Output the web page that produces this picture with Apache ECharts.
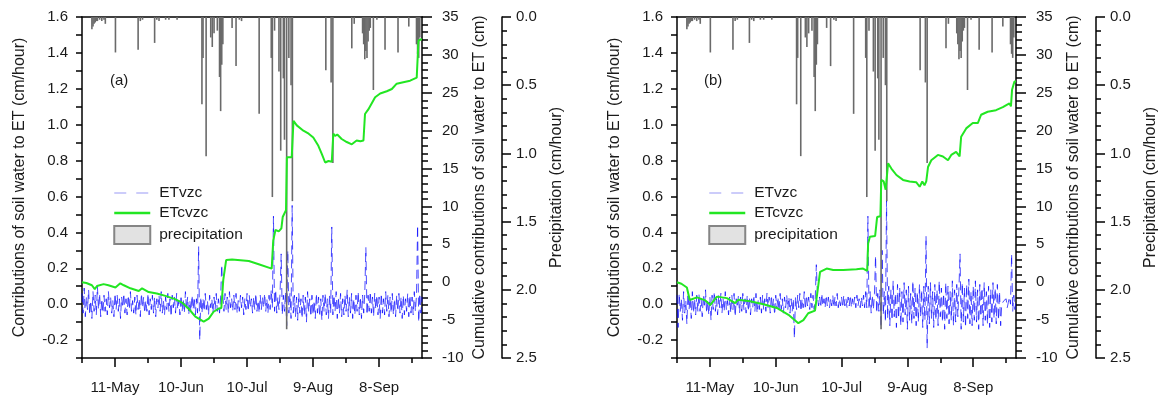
<!DOCTYPE html>
<html><head><meta charset="utf-8">
<script src="https://cdn.jsdelivr.net/npm/echarts@6/dist/echarts.min.js"></script>
<style>html,body{margin:0;padding:0;background:#fff}#c{width:1163px;height:398px}</style>
</head><body><div id="c"></div><script>
// x values are days after 26-Apr
const tickDays=[15,45,75,105,135];
const tickLabels=['11-May','10-Jun','10-Jul','9-Aug','8-Sep'];
const minorTickDays=[0,30,60,90,120,150];
const dayMax=154.5;
const stepDays=0.5; // ETvzc values every half day

const etvzcA=[.06,-.05,.09,-.07,.04,-.03,.08,-.06,.02,-.08,.07,-.04,.05,-.06,.1,-.03,.06,-.07,.03,-.05,
.05,-.04,.03,-.06,.07,-.02,.04,-.05,.02,-.07,.06,-.03,.05,-.04,.03,-.08,.04,-.02,.06,-.05,
.03,-.06,.05,-.03,.07,-.04,.02,-.05,.04,-.06,.05,-.03,.03,-.07,.06,-.02,.04,-.05,.02,-.04,
.06,-.06,.03,-.03,.05,-.05,.04,-.07,.03,-.02,.05,-.04,.07,-.05,.02,-.06,.04,-.03,.06,-.04,
.03,-.07,.05,-.02,.04,-.05,.06,-.03,.02,-.06,.05,-.04,.03,-.05,.07,-.03,.04,-.06,.02,-.04,
.05,-.03,.04,-.06,.03,-.05,.32,-.2,
.04,-.05,.03,-.04,.06,-.03,.02,-.06,.05,-.02,.03,-.05,.04,-.03,.06,-.04,.03,-.05,.04,.22,
.05,-.04,.06,-.03,.04,-.05,.07,-.02,.03,-.04,.05,-.03,.06,-.05,.02,-.04,.05,-.02,.04,-.06,
.03,-.03,.06,-.04,.05,-.02,.03,-.05,.04,-.03,.06,-.04,.02,-.05,.05,-.03,.04,-.02,.06,-.04,
.03,-.05,.05,-.03,.08,
-.02,.49,-.04,.08,-.05,.04,-.03,.06,.28,-.06,.05,-.04,.07,-.12,.3,-.05,.06,-.08,.55,-.05,
.05,-.07,.04,-.09,.06,-.05,.03,-.08,.05,-.06,.04,-.1,.07,-.04,.03,-.07,.05,-.06,.02,-.08,
.06,-.05,.04,-.07,.03,-.09,.05,-.04,.06,-.06,.03,-.08,.05,-.05,.43,
-.06,.05,-.04,.07,-.08,.04,-.05,.06,-.07,.03,-.06,.05,-.04,.08,-.07,.04,-.05,.06,-.08,.03,
-.06,.05,-.04,.07,-.06,.04,-.08,.05,-.05,.06,.315,
-.06,.05,-.04,.07,-.05,.04,-.07,.06,-.03,.05,-.06,.04,-.08,.06,-.05,.03,-.06,.07,-.04,.05,
-.07,.04,-.05,.06,-.06,.03,-.07,.05,-.04,.06,-.05,.04,-.08,.05,-.06,.03,-.04,.06,-.07,.05,
-.05,.04,-.06,.07,-.04,.05,.44,-.1,.06,-.05,.04];

const etvzcB=[.05,-.13,.06,-.04,.03,-.09,.07,-.05,.02,-.11,.06,-.03,.04,-.08,.07,-.05,.03,-.06,.05,-.04,
.06,-.04,.03,-.07,.05,-.02,.08,-.05,.02,-.06,.04,-.09,.05,-.03,.07,-.04,.03,-.06,.05,-.02,
.06,-.05,.03,-.04,.07,-.03,.02,-.06,.04,-.05,.05,-.03,.06,-.07,.03,-.02,.05,-.05,.04,-.04,
.06,-.03,.03,-.05,.05,-.04,.04,-.06,.03,-.02,.05,-.04,.06,-.05,.02,-.03,.04,-.05,.05,-.03,
.03,-.04,.06,-.02,.04,-.05,.05,-.03,.03,-.06,.05,-.02,.04,-.04,.06,-.03,.03,-.05,.04,-.02,
.05,-.03,.04,-.05,.03,-.04,.03,-.19,
.04,-.03,.05,-.02,.06,-.04,.03,-.02,.07,-.03,.05,-.01,.04,-.03,.06,-.02,.05,-.03,.03,.22,
.05,-.01,.04,-.02,.06,-.01,.03,-.02,.05,-.01,.04,-.02,.03,-.01,.05,-.02,.04,-.01,.06,-.02,
.03,-.01,.04,-.02,.05,-.01,.03,-.02,.04,-.01,.05,-.02,.03,-.01,.04,-.02,.05,-.01,.03,-.02,
.04,-.01,.05,-.02,.07,
-.02,.49,-.03,.07,-.05,.05,-.03,.06,.27,-.05,.06,-.04,.08,-.13,.3,-.06,.07,-.1,.58,-.08,
.1,-.12,.08,-.09,.13,-.07,.06,-.13,.11,-.08,.09,-.12,.07,-.1,.12,-.06,.08,-.14,.1,-.09,
.06,-.11,.13,-.08,.09,-.12,.07,-.1,.11,-.07,.08,-.13,.1,-.09,.38,-.245,
.1,-.11,.12,-.08,.07,-.13,.11,-.09,.08,-.12,.13,-.07,.09,-.1,.06,-.14,.12,-.08,.1,-.11,
.07,-.09,.13,-.12,.08,-.1,.11,-.07,.09,.28,-.14,
.12,-.1,.09,-.13,.11,-.08,.14,-.11,.07,-.12,.1,-.09,.13,-.1,.08,-.14,.11,-.07,.09,-.12,
.12,-.09,.07,-.11,.1,-.13,.08,-.1,.12,-.08,.09,-.11,.11,-.09,.07,-.12,
0,-.01,.02,.01,.03,-.02,.01,.04,0,.28,-.04,.05,-.03,.02];

const etcvzcA=[[0,0.0],[2,-0.1],[4.5,-0.4],[5.8,-0.9],[6.8,-0.5],[9.8,-0.25],[12,-0.4],[15.2,-0.7],[17.4,-0.14],[19,-0.4],[22,-0.8],[25.8,-1.16],[27.3,-0.8],[30.3,-1.3],[34,-1.5],[37.9,-1.8],[42,-2.2],[45.5,-2.7],[48.5,-3.5],[51.5,-4.55],[55.3,-5.2],[57.6,-4.8],[59.8,-3.9],[62,-3.5],[63.3,-3.4],[64.2,0.3],[65.5,2.93],[68.2,3.0],[72,2.9],[75.8,2.8],[80.3,2.38],[86.2,1.8],[86.9,5.5],[87.9,6.9],[89.4,6.7],[90.6,7.1],[91.2,8.6],[92.7,9.5],[93.1,16.5],[95.3,16.5],[96.1,21.3],[97.6,20.7],[100.6,20.0],[103,19.6],[105.1,19.1],[107.4,18.0],[109,16.9],[110.5,15.8],[112,16.0],[113.5,15.9],[114.2,19.6],[115,19.3],[116,19.5],[118,18.9],[120.3,18.5],[122.6,18.2],[124.8,18.7],[126.5,18.6],[127.9,18.7],[128.6,22.2],[130.1,22.8],[133.2,24.4],[135.5,24.9],[138.5,25.2],[140.8,25.5],[143,26.2],[146,26.4],[149.1,26.6],[152.1,27.0],[152.9,31.9],[154.4,32.1]];

const etcvzcB=[[0,0.0],[2,-0.2],[4.5,-0.7],[5.8,-2.35],[9.1,-2.0],[12.9,-2.4],[15.2,-3.0],[18.2,-1.9],[22.7,-2.1],[26.5,-2.75],[28,-2.3],[33.3,-2.5],[39.4,-2.9],[45.5,-3.4],[50.8,-4.3],[55.3,-5.4],[57.6,-5.0],[59.8,-4.1],[62.9,-3.75],[63.9,-1.5],[65.2,1.36],[68.2,1.8],[71.2,1.6],[75.8,1.6],[81.8,1.7],[84.8,1.8],[86.7,1.5],[87.1,5.1],[87.9,6.0],[88.6,6.2],[90.3,6.1],[91.2,8.6],[92.7,8.7],[93.1,13.5],[94.2,13.3],[95.1,12.2],[96.2,15.7],[97.7,15.0],[100,14.15],[103,13.5],[106,13.3],[109,13.2],[110.6,12.6],[111.8,13.3],[112.8,12.8],[113.6,13.3],[114.4,15.2],[115.9,16.1],[118.9,16.8],[121.2,16.6],[123.5,16.1],[125,16.8],[127.2,17.2],[128.8,16.6],[129.5,19.2],[131.8,20.3],[134.8,21.0],[137.1,21.0],[138.6,22.1],[141.6,22.5],[145.4,22.7],[148.5,23.1],[151.5,23.6],[152.2,23.2],[152.7,25.4],[153.8,26.5],[154.5,26.5]];

const precip=[[4.5,0.09],[5,0.07],[5.5,0.05],[6,0.04],[6.5,0.03],[7,0.03],[8,0.02],[9,0.03],[10,0.02],[10.6,0.05],[15.2,0.26],[25.5,0.24],[26.5,0.03],[27.5,0.02],[33,0.19],[34,0.02],[35,0.03],[38,0.02],[39.5,0.02],[43.2,0.02],[54.5,0.64],[55,0.3],[56.4,1.02],[58.5,0.15],[59.2,0.22],[60,0.12],[61.5,0.1],[62.5,0.44],[63,0.69],[63.5,0.35],[64,0.2],[68.2,0.08],[70,0.36],[71.5,0.02],[72.5,0.03],[80.5,0.71],[86,0.3],[86.5,1.32],[87.5,0.1],[89.5,0.4],[90.3,0.98],[91.5,0.45],[92,0.9],[93,2.29],[94,0.3],[95,0.5],[95.6,1.35],[110.8,0.39],[113.2,0.48],[114,1.07],[122.6,0.23],[123.7,0.05],[127.5,0.12],[128,0.2],[128.5,0.31],[129,0.25],[129.5,0.3],[130,0.18],[130.5,0.1],[131,0.08],[132.4,0.535],[134,0.02],[137.7,0.24],[143.6,0.26],[148.5,0.07],[152,0.2],[152.5,0.27],[153,0.3],[153.5,0.15]];

const FONT='"Liberation Sans", Arial, sans-serif';
const TXT='#1a1a1a';
const AX={color:'#000',width:1.5};

function xAxes(gi){
  return [
    {gridIndex:gi,type:'value',min:0,max:dayMax,position:'bottom',offset:0,
     axisLine:{onZero:false,lineStyle:AX},
     axisTick:{customValues:tickDays,length:9,lineStyle:AX},
     axisLabel:{customValues:tickDays,formatter:v=>tickLabels[tickDays.indexOf(Math.round(v))]||'',fontSize:15,color:TXT,fontFamily:FONT,margin:22},
     splitLine:{show:false}},
    {gridIndex:gi,type:'value',min:0,max:dayMax,position:'bottom',offset:0,
     axisLine:{show:false,onZero:false},
     axisTick:{customValues:minorTickDays,length:5,lineStyle:AX},
     axisLabel:{show:false},splitLine:{show:false}},
    {gridIndex:gi,type:'value',min:0,max:dayMax,position:'top',offset:0,
     axisLine:{onZero:false,lineStyle:AX},axisTick:{show:false},axisLabel:{show:false},splitLine:{show:false}}
  ];
}
function yAxes(gi){
  const nts={fontSize:16,color:TXT,fontFamily:FONT};
  return [
    {gridIndex:gi,type:'value',position:'left',offset:0,min:-0.3,max:1.6,interval:0.1,
     name:'Contributions of soil water to ET (cm/hour)',nameLocation:'middle',nameRotate:90,nameGap:54,nameTextStyle:nts,
     axisLine:{show:true,onZero:false,lineStyle:AX},
     axisTick:{show:true,length:6,lineStyle:AX},
     axisLabel:{formatter:v=>{const k=Math.round(v*10);return k%2===0?(k/10).toFixed(1):'';},fontSize:15,color:TXT,fontFamily:FONT,margin:14},
     splitLine:{show:false}},
    {gridIndex:gi,type:'value',position:'right',offset:0,min:-10,max:35,interval:5,
     name:'Cumulative contributions of soil water to ET (cm)',nameLocation:'middle',nameRotate:90,nameGap:50,nameTextStyle:nts,
     axisLine:{show:true,onZero:false,lineStyle:AX},
     axisTick:{show:true,length:10,lineStyle:AX},
     minorTick:{show:true,splitNumber:5,length:6,lineStyle:AX},
     axisLabel:{formatter:v=>String(Math.round(v)),fontSize:15,color:TXT,fontFamily:FONT,margin:20},
     splitLine:{show:false},minorSplitLine:{show:false}},
    {gridIndex:gi,type:'value',position:'right',offset:80,min:0,max:2.5,interval:0.5,inverse:true,
     name:'Precipitation (cm/hour)',nameLocation:'middle',nameRotate:90,nameGap:47,nameTextStyle:nts,
     axisLine:{show:true,onZero:false,lineStyle:AX},
     axisTick:{show:true,length:9,lineStyle:AX},
     minorTick:{show:true,splitNumber:5,length:5,lineStyle:AX},
     axisLabel:{formatter:v=>v.toFixed(1),fontSize:15,color:TXT,fontFamily:FONT,margin:14},
     splitLine:{show:false},minorSplitLine:{show:false}}
  ];
}
function seriesFor(gi,etv,etc){
  const xi=gi*3, yi=gi*3;
  return [
    {name:'ETvzc',type:'line',xAxisIndex:xi,yAxisIndex:yi,data:etv.map((v,i)=>[i*stepDays,v]),
     symbol:'none',showSymbol:false,sampling:null,
     lineStyle:{color:'rgba(0,0,255,0.7)',width:1,type:[9,5]},itemStyle:{color:'rgba(0,0,255,0.7)'},z:2},
    {name:'precipitation',type:'bar',xAxisIndex:xi,yAxisIndex:yi+2,data:precip,barWidth:1.6,
     itemStyle:{color:'#6a6a6a'},z:3},
    {name:'ETcvzc',type:'line',xAxisIndex:xi,yAxisIndex:yi+1,data:etc,
     symbol:'none',showSymbol:false,
     lineStyle:{color:'#22e622',width:2},itemStyle:{color:'#22e622'},z:4}
  ];
}
function legendAt(left){
  return {left:left,top:180,orient:'vertical',itemWidth:36,itemHeight:18,itemGap:4,selectedMode:false,
    textStyle:{fontSize:15.5,color:TXT,fontFamily:FONT,padding:[0,0,0,4]},
    data:[
      {name:'ETvzc',itemStyle:{opacity:0},lineStyle:{color:'#9a9af5',width:1.2,type:[12,10]}},
      {name:'ETcvzc',itemStyle:{opacity:0},lineStyle:{color:'#22e622',width:2.5}},
      {name:'precipitation',icon:'rect',itemStyle:{color:'#e2e2e2',borderColor:'#858585',borderWidth:2}}]};
}

const chart=echarts.init(document.getElementById('c'),null,{renderer:'canvas'});
chart.setOption({
  animation:false,
  backgroundColor:'#fff',
  textStyle:{fontFamily:FONT},
  grid:[{left:82,right:741,top:17,bottom:40},{left:677,right:147,top:17,bottom:40}],
  xAxis:[...xAxes(0),...xAxes(1)],
  yAxis:[...yAxes(0),...yAxes(1)],
  legend:[legendAt(108),legendAt(703)],
  graphic:[
    {type:'text',left:110,top:73,style:{text:'(a)',fontSize:15,fill:TXT,fontFamily:FONT}},
    {type:'text',left:704,top:73,style:{text:'(b)',fontSize:15,fill:TXT,fontFamily:FONT}}
  ],
  series:[...seriesFor(0,etvzcA,etcvzcA),...seriesFor(1,etvzcB,etcvzcB)]
});
</script></body></html>
